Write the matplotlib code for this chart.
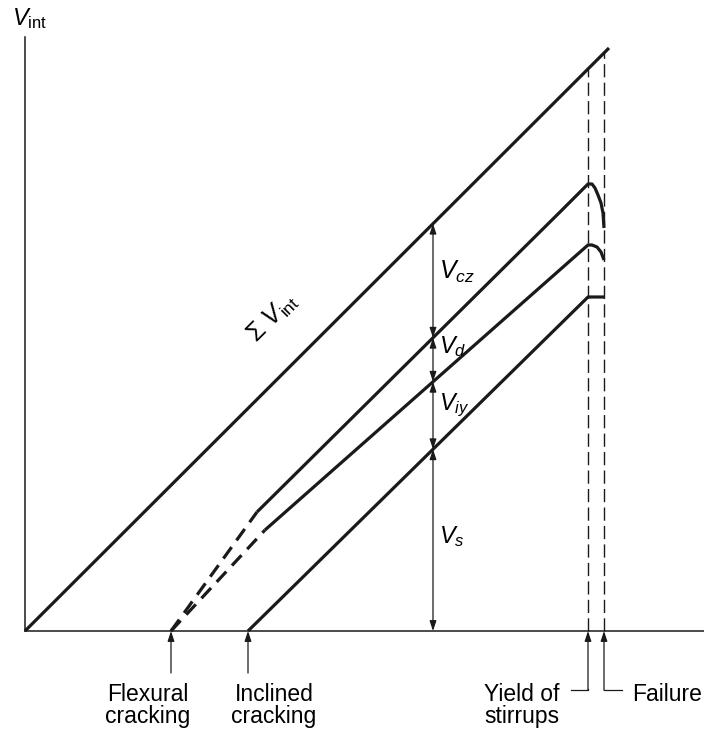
import matplotlib
matplotlib.use('Agg')
import matplotlib.pyplot as plt
import numpy as np

plt.rcParams['font.family'] = ['Liberation Sans', 'DejaVu Sans']
plt.rcParams['mathtext.fontset'] = 'custom'
plt.rcParams['mathtext.rm'] = 'Liberation Sans'
plt.rcParams['mathtext.it'] = 'Liberation Sans:italic'

# schematic shear components vs. applied shear (arbitrary units)
sum_x = [0, 584]
sum_y = [0, 583]

# Vs + Viy + Vd boundary (dashed before inclined cracking)
top_dash_x = [146, 232]
top_dash_y = [0, 119]
top_x = [232, 535, 563, 567, 570, 573, 576, 578, 579]
top_y = [119, 419, 447, 447, 443, 436, 428, 418, 403]

# Vs + Viy boundary
mid_dash_x = [146, 240]
mid_dash_y = [0, 101]
mid_x = [240, 563, 567, 572, 576, 579]
mid_y = [101, 386, 386, 384, 379, 371]

# Vs
vs_x = [223, 563, 579]
vs_y = [0, 334, 334]

x_flex = 146
x_incl = 223
x_yield = 563
x_fail = 579
x_cut = 408

x_axis_end = 679
y_axis_end = 594

fig = plt.figure(figsize=(7.04, 7.35), dpi=100)
ax = fig.add_axes([0, 0, 1, 1])
ax.set_xlim(-25, 679)
ax.set_ylim(-104, 631)
ax.axis('off')

k = '#1a1a1a'
lw_main = 2.3
dash = (0, (4.4, 2.6))

# axes
ax.plot([0, x_axis_end], [0, 0], color=k, lw=1.1)
ax.plot([0, 0], [0, y_axis_end], color=k, lw=1.1)

# curves
ax.plot(sum_x, sum_y, color=k, lw=lw_main, solid_capstyle='butt')
ax.plot(top_dash_x, top_dash_y, color=k, lw=lw_main, linestyle=dash)
ax.plot(top_x, top_y, color=k, lw=lw_main, solid_capstyle='butt')
ax.plot(mid_dash_x, mid_dash_y, color=k, lw=lw_main, linestyle=dash)
ax.plot(mid_x, mid_y, color=k, lw=lw_main, solid_capstyle='butt')
ax.plot(vs_x, vs_y, color=k, lw=lw_main, solid_capstyle='butt')

# vertical dashed lines at yield and failure
for xv in (x_yield, x_fail):
    ax.plot([xv, xv], [0, np.interp(xv, sum_x, sum_y)], color=k, lw=1.0,
            linestyle=(0, (9.5, 3.8)))

# dimension arrows at the cut
y_sum = np.interp(x_cut, sum_x, sum_y)
y_top = np.interp(x_cut, top_x, top_y)
y_mid = np.interp(x_cut, mid_x, mid_y)
y_vs = np.interp(x_cut, vs_x, vs_y)
levels = [y_sum, y_top, y_mid, y_vs, 0]
dbl = dict(arrowstyle='<|-|>,head_length=0.6,head_width=0.2', color=k, lw=0.9,
           shrinkA=0, shrinkB=0, mutation_scale=10)
for a, b in zip(levels[:-1], levels[1:]):
    ax.annotate('', xy=(x_cut, b), xytext=(x_cut, a), arrowprops=dbl)

lab_fs = 17
ax.text(x_cut + 6, (y_sum + y_top) / 2 + 9, r'$V_{cz}$', fontsize=lab_fs + 1,
        ha='left', va='center')
ax.text(x_cut + 6, (y_top + y_mid) / 2 + 13, r'$V_{d}$', fontsize=lab_fs,
        ha='left', va='center')
ax.text(x_cut + 6, (y_mid + y_vs) / 2 + 10, r'$V_{iy}$', fontsize=lab_fs,
        ha='left', va='center')
ax.text(x_cut + 6, (y_vs + 0) / 2 + 4, r'$V_{s}$', fontsize=lab_fs,
        ha='left', va='center')

ax.text(248, 313, r'$\Sigma\ V_{\rm int}$', fontsize=18, rotation=45,
        ha='center', va='center', rotation_mode='anchor')
ax.text(-13, 612, r'$V_{\rm int}$', fontsize=17, ha='left', va='center')

# event arrows under the axis
up = dict(arrowstyle='-|>,head_length=0.6,head_width=0.2', color=k, lw=0.9,
          shrinkA=0, shrinkB=0, mutation_scale=10)
for xe in (x_flex, x_incl):
    ax.annotate('', xy=(xe, 0), xytext=(xe, -42), arrowprops=up)
for xe in (x_yield, x_fail):
    ax.annotate('', xy=(xe, 0), xytext=(xe, -59), arrowprops=up)
ax.plot([x_yield - 17, x_yield, x_yield], [-59, -59, -58], color=k, lw=0.9)
ax.plot([x_fail, x_fail + 18], [-59, -59], color=k, lw=0.9)

txt_fs = 16.5
ax.text(x_flex - 23, -52, 'Flexural\ncracking', fontsize=txt_fs, ha='center',
        va='top', linespacing=0.95)
ax.text(x_incl + 26, -52, 'Inclined\ncracking', fontsize=txt_fs, ha='center',
        va='top', linespacing=0.95)
ax.text(497, -52, 'Yield of\nstirrups', fontsize=txt_fs, ha='center',
        va='top', linespacing=0.95)
ax.text(607, -52, 'Failure', fontsize=txt_fs, ha='left', va='top')

fig.savefig('out.png', dpi=100, facecolor='white')
